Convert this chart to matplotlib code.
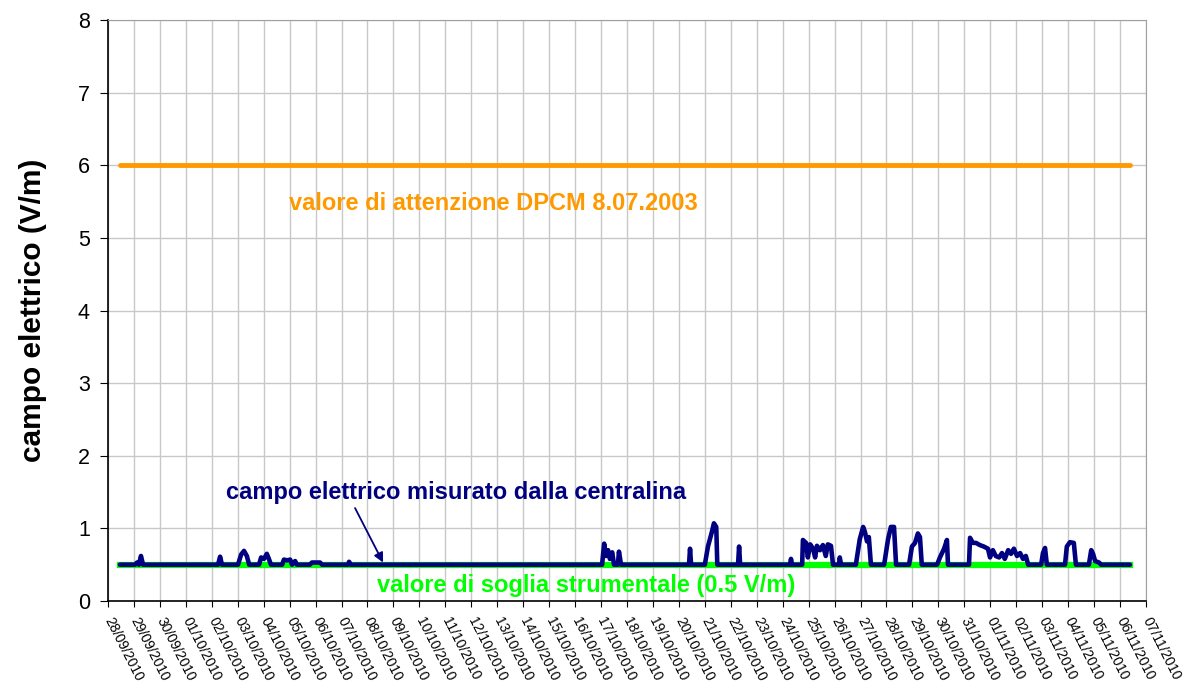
import matplotlib
matplotlib.use("Agg")
import matplotlib.pyplot as plt
import matplotlib.dates as mdates
import pandas as pd

plt.rcParams["font.family"] = ["Liberation Sans", "DejaVu Sans"]

# data: time in days from 28/09/2010 00:00, measured field (V/m)
t_days = [
    0.46, 1.04, 1.12, 1.19, 1.27, 1.35,
    4.24, 4.32, 4.39,
    5.01, 5.13, 5.24, 5.35, 5.44,
    5.82, 5.90, 6.01, 6.12, 6.21, 6.28,
    6.71, 6.78, 6.90, 7.02, 7.09, 7.21, 7.28,
    7.78, 7.86, 8.17, 8.25,
    9.25, 9.29, 9.36,
    19.04, 19.12, 19.19, 19.27, 19.34, 19.43, 19.50,
    19.65, 19.69, 19.77,
    22.39, 22.43, 22.47,
    23.00, 23.12, 23.27, 23.35, 23.44, 23.48,
    24.28, 24.32, 24.36,
    26.28, 26.32, 26.36,
    26.75, 26.78, 26.90, 26.97, 27.06, 27.17, 27.25, 27.32, 27.44, 27.55,
    27.66, 27.74, 27.86, 27.94,
    28.17, 28.20, 28.25,
    28.82, 28.97, 29.10, 29.17, 29.25, 29.32, 29.40,
    29.91, 30.06, 30.17, 30.29, 30.37,
    30.87, 30.98, 31.10, 31.21, 31.29, 31.36,
    31.95, 32.06, 32.22, 32.33, 32.37,
    33.18, 33.22, 33.33, 33.45, 33.60, 33.75, 33.91, 33.99, 34.10, 34.21,
    34.34, 34.45, 34.56, 34.69, 34.80, 34.91, 35.03, 35.15, 35.26, 35.37, 35.46,
    35.96, 36.03, 36.11, 36.18,
    36.88, 36.95, 37.07, 37.22, 37.30,
    37.80, 37.89, 37.96, 38.04, 38.19, 38.27,
    39.38,
]
e_field = [
    0.50, 0.50, 0.53, 0.50, 0.62, 0.50,
    0.50, 0.61, 0.50,
    0.50, 0.64, 0.69, 0.62, 0.50,
    0.50, 0.60, 0.58, 0.65, 0.57, 0.50,
    0.50, 0.57, 0.56, 0.57, 0.50, 0.55, 0.50,
    0.50, 0.53, 0.53, 0.50,
    0.50, 0.54, 0.50,
    0.50, 0.79, 0.62, 0.70, 0.58, 0.67, 0.50,
    0.50, 0.68, 0.50,
    0.50, 0.72, 0.50,
    0.50, 0.75, 0.95, 1.07, 1.02, 0.50,
    0.50, 0.75, 0.50,
    0.50, 0.58, 0.50,
    0.50, 0.84, 0.80, 0.60, 0.78, 0.72, 0.60, 0.76, 0.70, 0.77,
    0.62, 0.78, 0.76, 0.50,
    0.50, 0.60, 0.50,
    0.50, 0.85, 1.02, 0.95, 0.82, 0.88, 0.50,
    0.50, 0.85, 1.02, 1.02, 0.50,
    0.50, 0.75, 0.80, 0.93, 0.88, 0.50,
    0.50, 0.60, 0.72, 0.84, 0.50,
    0.50, 0.87, 0.80, 0.80, 0.77, 0.75, 0.72, 0.60, 0.70, 0.62,
    0.60, 0.66, 0.58, 0.70, 0.65, 0.72, 0.62, 0.66, 0.58, 0.62, 0.50,
    0.50, 0.66, 0.73, 0.50,
    0.50, 0.75, 0.81, 0.80, 0.50,
    0.50, 0.70, 0.65, 0.55, 0.53, 0.50,
    0.50,
]
start = pd.Timestamp("2010-09-28")
end = pd.Timestamp("2010-11-07")
attention_value = 6.0
threshold_value = 0.5

times = start + pd.to_timedelta(t_days, unit="D")
t0, t1 = times[0], times[-1]


def day(d):
    return start + pd.Timedelta(days=d)


fig = plt.figure(figsize=(11.83, 6.86), dpi=100)
ax = fig.add_axes([0.0913, 0.1239, 0.8774, 0.8469])

ax.plot([t0, t1], [attention_value] * 2, color="#FF9900", lw=3.5,
        solid_capstyle="round")
ax.plot([t0, t1], [threshold_value] * 2, color="#00FF00", lw=4.5)
ax.plot(times, e_field, color="#000080", lw=3.3, solid_capstyle="round",
        solid_joinstyle="round")

ax.set_xlim(start, end)
ax.set_ylim(0, 8)
ax.set_yticks(range(0, 9))
ax.xaxis.set_major_locator(mdates.DayLocator())
ax.xaxis.set_major_formatter(mdates.DateFormatter("%d/%m/%Y"))
ax.tick_params(axis="x", labelsize=10, length=4.5, direction="out",
               pad=8)
for lab in ax.get_xticklabels():
    lab.set_rotation(-63)
    lab.set_ha("left")
    lab.set_va("center")
    lab.set_rotation_mode("anchor")
ax.tick_params(axis="y", labelsize=15.5, length=6, direction="out", pad=7)
ax.grid(True, color="#C8C8C8", lw=1)
ax.set_axisbelow(True)
for s in ("top", "right"):
    ax.spines[s].set_color("#A0A0A0")
for s in ("left", "bottom"):
    ax.spines[s].set_linewidth(1.2)

ax.set_ylabel("campo elettrico (V/m)", fontsize=21.5, fontweight="bold",
              labelpad=22)

ax.text(day(14.84), 5.47, "valore di attenzione DPCM 8.07.2003",
        color="#FF9900", fontsize=17, fontweight="bold",
        ha="center", va="center")
ax.text(day(13.41), 1.50, "campo elettrico misurato dalla centralina",
        color="#000080", fontsize=17, fontweight="bold",
        ha="center", va="center")
ax.text(day(18.42), 0.22, "valore di soglia strumentale (0.5 V/m)",
        color="#00FF00", fontsize=17, fontweight="bold",
        ha="center", va="center")
ax.annotate("", xy=(day(10.60), 0.53), xytext=(day(9.52), 1.28),
            arrowprops=dict(arrowstyle="-|>", color="#000080", lw=1.3,
                            mutation_scale=14, shrinkA=0, shrinkB=0))

fig.savefig("out.png", dpi=100)
